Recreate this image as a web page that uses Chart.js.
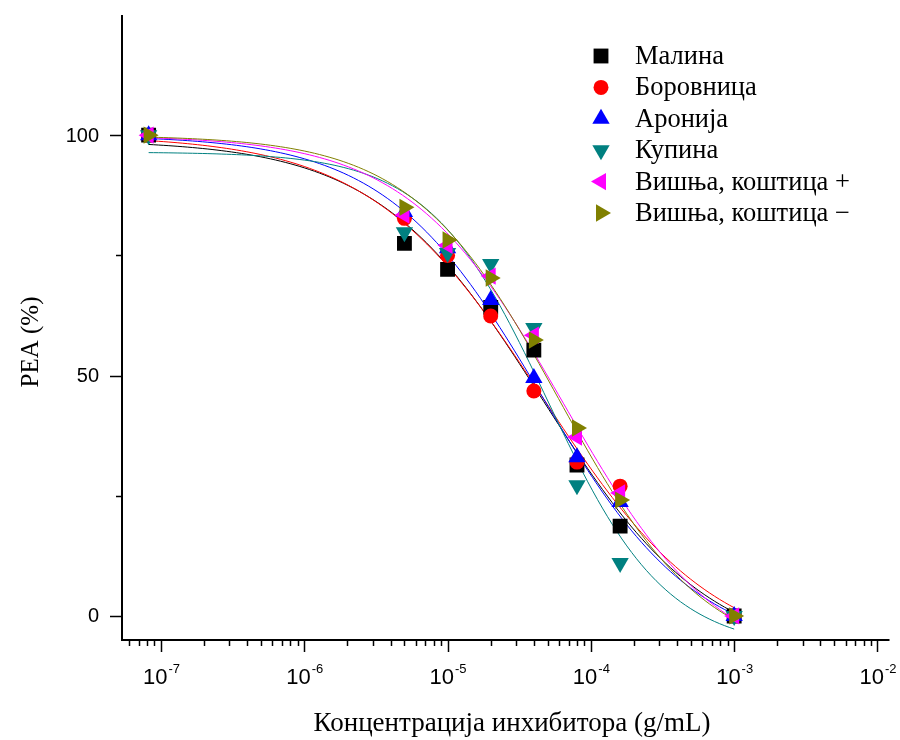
<!DOCTYPE html>
<html>
<head>
<meta charset="utf-8">
<script src="https://cdn.jsdelivr.net/npm/chart.js@4/dist/chart.umd.min.js"></script>
<style>
body { margin: 0; background: #fff; }
</style>
</head>
<body>
<canvas id="chart" width="900" height="740"></canvas>
<script>
// concentrations (g/mL)
const concentrations = [8.2e-8, 5e-6, 1e-5, 2e-5, 4e-5, 8e-5, 1.6e-4, 1e-3];

const seriesNames = ['Малина', 'Боровница', 'Аронија', 'Купина', 'Вишња, коштица +', 'Вишња, коштица −'];
const seriesColors = ['#000000', '#ff0000', '#0000ff', '#008080', '#ff00ff', '#808000'];
const seriesShapes = ['rect', 'circle', 'triangle', 'triangle', 'triangle', 'triangle'];
const seriesRotation = [0, 0, 0, 180, 270, 90];

// PEA (%)
const malina    = [100, 77.5, 72.1, 64.2, 55.3, 31.4, 18.7, 0];
const borovnica = [100, 82.7, 75.0, 62.4, 46.8, 32.0, 27.0, 0];
const aronija   = [100, 84.0, 76.5, 65.7, 49.5, 33.0, 23.7, 0];
const kupina    = [100, 79.8, 75.5, 73.2, 59.9, 27.2, 11.0, 0];
const visnjaPlus  = [100, 83.4, 77.1, 70.7, 58.4, 37.2, 25.6, 0];
const visnjaMinus = [100, 85.0, 78.2, 70.3, 57.4, 39.1, 24.1, 0];
const seriesValues = [malina, borovnica, aronija, kupina, visnjaPlus, visnjaMinus];

// dose-response fit parameters
const fitTop    = [99, 100, 100, 96.5, 100, 100];
const fitBottom = [-9, -9, -8, -7, -12, -10];
const fitEC50   = [4.6e-5, 4.6e-5, 4.5e-5, 5e-5, 6.5e-5, 6e-5];
const fitHill   = [0.75, 0.72, 0.8, 1.05, 0.8, 0.85];

const xTickExponents = [-7, -6, -5, -4, -3, -2];
const yMajorTicks = [0, 50, 100];
const yMinorTicks = [25, 75];

function fitCurve(i) {
	var pts = [];
	var lo = Math.log10(concentrations[0]);
	var hi = Math.log10(concentrations[concentrations.length - 1]);
	for (var k = 0; k <= 120; k++) {
		var x = Math.pow(10, lo + (hi - lo) * k / 120);
		var y = fitBottom[i] + (fitTop[i] - fitBottom[i]) / (1 + Math.pow(x / fitEC50[i], fitHill[i]));
		pts.push({ x: x, y: y });
	}
	return pts;
}

var datasets = [];
seriesNames.forEach(function (name, i) {
	datasets.push({
		label: name + ' fit',
		data: fitCurve(i),
		showLine: true,
		borderColor: seriesColors[i],
		borderWidth: 1,
		pointRadius: 0,
		order: 20 - i
	});
});
seriesNames.forEach(function (name, i) {
	datasets.push({
		label: name,
		data: concentrations.map(function (c, k) { return { x: c, y: seriesValues[i][k] }; }),
		showLine: false,
		pointStyle: seriesShapes[i],
		rotation: seriesRotation[i],
		pointRadius: seriesShapes[i] == 'rect' ? 10.5 : (seriesShapes[i] == 'circle' ? 7.5 : 10),
		backgroundColor: seriesColors[i],
		borderColor: seriesColors[i],
		borderWidth: 0,
		order: 6 - i
	});
});

function drawMarker(ctx, shape, rot, x, y, r, color) {
	ctx.save();
	ctx.fillStyle = color;
	ctx.beginPath();
	if (shape == 'rect') {
		var s = r * Math.SQRT1_2;
		ctx.rect(x - s, y - s, 2 * s, 2 * s);
	} else if (shape == 'circle') {
		ctx.arc(x, y, r, 0, Math.PI * 2);
	} else {
		var a = rot * Math.PI / 180;
		for (var k = 0; k < 3; k++) {
			var px = x + Math.sin(a) * r, py = y - Math.cos(a) * r;
			if (k == 0) ctx.moveTo(px, py); else ctx.lineTo(px, py);
			a += 2 * Math.PI / 3;
		}
		ctx.closePath();
	}
	ctx.fill();
	ctx.restore();
}

const axesPlugin = {
	id: 'axes',
	afterDraw: function (chart) {
		var ctx = chart.ctx, area = chart.chartArea;
		var xs = chart.scales.x, ys = chart.scales.y;
		ctx.save();
		ctx.strokeStyle = '#000';
		ctx.fillStyle = '#000';
		// axis lines
		ctx.lineWidth = 2;
		ctx.beginPath();
		ctx.moveTo(area.left, area.top);
		ctx.lineTo(area.left, area.bottom);
		ctx.lineTo(area.right, area.bottom);
		ctx.stroke();
		ctx.lineWidth = 1.5;
		// y ticks
		yMajorTicks.concat(yMinorTicks).forEach(function (v) {
			var py = Math.round(ys.getPixelForValue(v)) + 0.5;
			var len = yMajorTicks.indexOf(v) >= 0 ? 12 : 6;
			ctx.beginPath();
			ctx.moveTo(area.left - len, py);
			ctx.lineTo(area.left, py);
			ctx.stroke();
		});
		ctx.font = '20px "Liberation Sans", Arial, sans-serif';
		ctx.textAlign = 'right';
		ctx.textBaseline = 'middle';
		yMajorTicks.forEach(function (v) {
			ctx.fillText(String(v), area.left - 23, ys.getPixelForValue(v) + 1);
		});
		// x ticks
		for (var e = -8; e <= -2; e++) {
			for (var m = 1; m <= 9; m++) {
				var v = m * Math.pow(10, e);
				if (v < xs.min || v > xs.max) continue;
				var px = Math.round(xs.getPixelForValue(v)) + 0.5;
				var len = m == 1 ? 12 : 6;
				ctx.beginPath();
				ctx.moveTo(px, area.bottom);
				ctx.lineTo(px, area.bottom + len);
				ctx.stroke();
			}
		}
		ctx.textAlign = 'left';
		ctx.textBaseline = 'alphabetic';
		xTickExponents.forEach(function (e) {
			var px = xs.getPixelForValue(Math.pow(10, e));
			ctx.font = '22px "Liberation Sans", Arial, sans-serif';
			var w1 = ctx.measureText('10').width;
			ctx.font = '13px "Liberation Sans", Arial, sans-serif';
			var exp = '-' + Math.abs(e);
			var w2 = ctx.measureText(exp).width;
			var x0 = px - (w1 + w2) / 2;
			ctx.font = '22px "Liberation Sans", Arial, sans-serif';
			ctx.fillText('10', x0, 684);
			ctx.font = '13px "Liberation Sans", Arial, sans-serif';
			ctx.fillText(exp, x0 + w1 + 1, 673);
		});
		// axis titles
		ctx.font = '27px "Liberation Serif", "Times New Roman", serif';
		ctx.textAlign = 'center';
		ctx.fillText('Концентрација инхибитора (g/mL)', 512, 731);
		ctx.font = '25px "Liberation Serif", "Times New Roman", serif';
		ctx.save();
		ctx.translate(38, 342);
		ctx.rotate(-Math.PI / 2);
		ctx.textBaseline = 'alphabetic';
		ctx.fillText('PEA (%)', 0, 0);
		ctx.restore();
		// legend
		ctx.font = '26.5px "Liberation Serif", "Times New Roman", serif';
		ctx.textAlign = 'left';
		ctx.textBaseline = 'middle';
		seriesNames.forEach(function (name, i) {
			var y = 56 + i * 31.4;
			var r = seriesShapes[i] == 'rect' ? 10.5 : (seriesShapes[i] == 'circle' ? 7.5 : 10);
			drawMarker(ctx, seriesShapes[i], seriesRotation[i], 601, y, r, seriesColors[i]);
			ctx.fillStyle = '#000';
			ctx.fillText(name, 635, y + 1);
		});
		ctx.restore();
	}
};

new Chart(document.getElementById('chart'), {
	type: 'scatter',
	data: { datasets: datasets },
	options: {
		responsive: false,
		animation: false,
		layout: { padding: { left: 122, right: 10, top: 15, bottom: 100 } },
		scales: {
			x: { type: 'logarithmic', min: Math.pow(10, -7.272), max: Math.pow(10, -1.916), display: false },
			y: { type: 'linear', min: -5, max: 125, display: false }
		},
		plugins: {
			legend: { display: false },
			tooltip: { enabled: false }
		}
	},
	plugins: [axesPlugin]
});
</script>
</body>
</html>
